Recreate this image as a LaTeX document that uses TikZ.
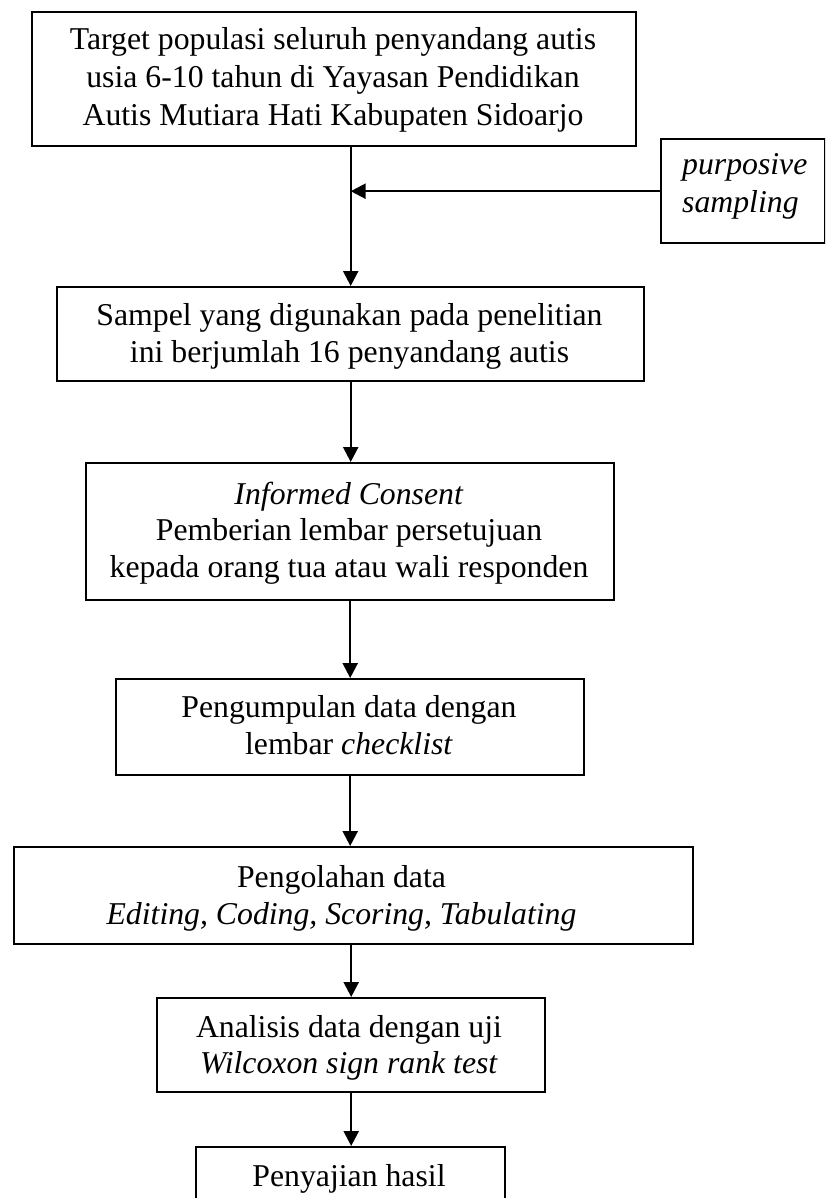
\documentclass[tikz,border=0pt]{standalone}
\usepackage{fontspec}
\setmainfont{Liberation Serif}
\usetikzlibrary{arrows.meta}
\begin{document}
\begin{tikzpicture}[x=1pt,y=-1pt,
  boxnode/.style={draw=black, line width=2.4pt, inner sep=0pt, anchor=north west},
  txt/.style={inner sep=0pt, anchor=base, font=\fontsize{31.75pt}{38pt}\selectfont},
  txtl/.style={txt, anchor=base west},
  arr/.style={line width=2.4pt, -{Triangle[length=15pt,width=15pt]}}]
\useasboundingbox (0,0) rectangle (825,1198);
\clip (0,0) rectangle (825,1198);
% boxes
\node[boxnode, minimum width=604pt, minimum height=134pt] (b1) at (31,11) {};
\node[boxnode, minimum width=164pt, minimum height=104pt] (sp) at (660,138) {};
\node[boxnode, minimum width=587pt, minimum height=94pt] (b2) at (56,286) {};
\node[boxnode, minimum width=528pt, minimum height=137pt] (b3) at (85,462) {};
\node[boxnode, minimum width=468pt, minimum height=96pt] (b4) at (115,678) {};
\node[boxnode, minimum width=679pt, minimum height=97pt] (b5) at (13,846) {};
\node[boxnode, minimum width=388pt, minimum height=94pt] (b6) at (156,997) {};
\node[boxnode, minimum width=309pt, minimum height=80pt] (b7) at (195,1146) {};
% texts
\node[txt] (t1a) at (333,50) {Target populasi seluruh penyandang autis};
\node[txt] (t1b) at (333,88) {usia 6-10 tahun di Yayasan Pendidikan};
\node[txt] (t1c) at (333,126) {Autis Mutiara Hati Kabupaten Sidoarjo};
\node[txtl] (tsa) at (682,175) {\textit{purposive}};
\node[txtl] (tsb) at (682,213) {\textit{sampling}};
\node[txt] (t2a) at (349.5,325) {Sampel yang digunakan pada penelitian};
\node[txt] (t2b) at (349.5,362) {ini berjumlah 16 penyandang autis};
\node[txt] (t3a) at (349,504) {\textit{Informed Consent}};
\node[txt] (t3b) at (349,540) {Pemberian lembar persetujuan};
\node[txt] (t3c) at (349,577) {kepada orang tua atau wali responden};
\node[txt] (t4a) at (349,717) {Pengumpulan data dengan};
\node[txt] (t4b) at (349,754) {lembar \textit{checklist}};
\node[txt] (t5a) at (341.5,887) {Pengolahan data};
\node[txt] (t5b) at (341.5,924) {\textit{Editing, Coding, Scoring, Tabulating}};
\node[txt] (t6a) at (349,1037) {Analisis data dengan uji};
\node[txt] (t6b) at (349,1073) {\textit{Wilcoxon sign rank test}};
\node[txt] (t7) at (349,1186) {Penyajian hasil};
% connectors
\draw[arr] (b2.north |- b1.south) -- (b2.north);
\coordinate (j) at (b2.north |- sp.west);
\draw[arr] (sp.west) -- (j);
\draw[arr] (b2.south) -- (b2.south |- b3.north);
\draw[arr] (b3.south) -- (b3.south |- b4.north);
\draw[arr] (b4.south) -- (b4.south |- b5.north);
\draw[arr] (b6.north |- b5.south) -- (b6.north);
\draw[arr] (b6.south) -- (b6.south |- b7.north);
\end{tikzpicture}
\end{document}
